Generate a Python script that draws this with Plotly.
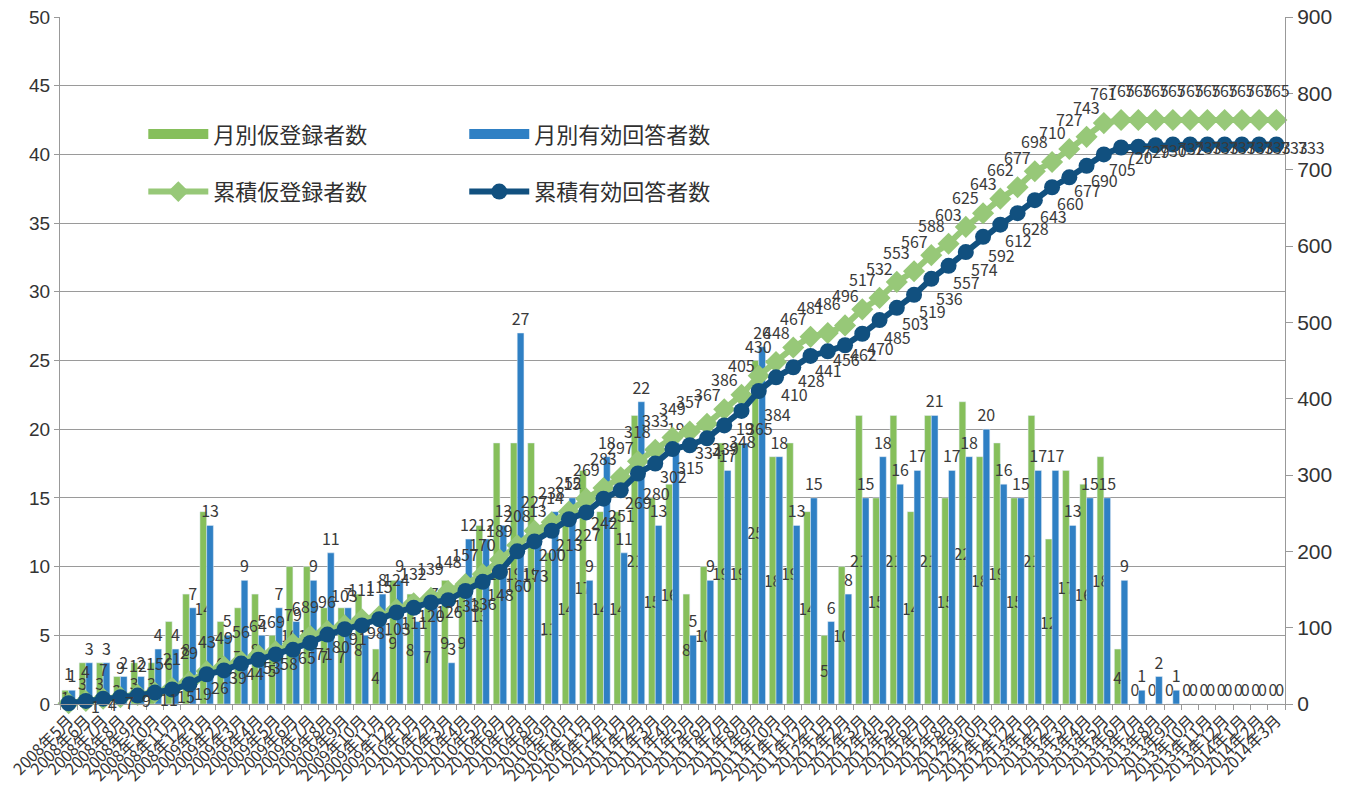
import plotly.graph_objects as go

categories = [
    "2008年5月", "2008年6月", "2008年7月", "2008年8月", "2008年9月", "2008年10月", "2008年11月", "2008年12月",
    "2009年1月", "2009年2月", "2009年3月", "2009年4月", "2009年5月", "2009年6月", "2009年7月", "2009年8月",
    "2009年9月", "2009年10月", "2009年11月", "2009年12月",
    "2010年1月", "2010年2月", "2010年3月", "2010年4月", "2010年5月", "2010年6月", "2010年7月", "2010年8月",
    "2010年9月", "2010年10月", "2010年11月", "2010年12月",
    "2011年1月", "2011年2月", "2011年3月", "2011年4月", "2011年5月", "2011年6月", "2011年7月", "2011年8月",
    "2011年9月", "2011年10月", "2011年11月", "2011年12月",
    "2012年1月", "2012年2月", "2012年3月", "2012年4月", "2012年5月", "2012年6月", "2012年7月", "2012年8月",
    "2012年9月", "2012年10月", "2012年11月", "2012年12月",
    "2013年1月", "2013年2月", "2013年3月", "2013年4月", "2013年5月", "2013年6月", "2013年7月", "2013年8月",
    "2013年9月", "2013年10月", "2013年11月", "2013年12月",
    "2014年1月", "2014年2月", "2014年3月",
]

monthly_registered = [
    1, 3, 3, 2, 3, 3, 6, 8, 14, 6,
    7, 8, 5, 10, 10, 7, 7, 8, 4, 9,
    8, 7, 9, 9, 13, 19, 19, 19, 11, 14,
    17, 14, 14, 21, 15, 16, 8, 10, 19, 19,
    25, 18, 19, 14, 5, 10, 21, 15, 21, 14,
    21, 15, 22, 18, 19, 15, 21, 12, 17, 16,
    18, 4, 0, 0, 0, 0, 0, 0, 0, 0, 0,
]

monthly_valid = [
    1, 3, 3, 2, 2, 4, 4, 7, 13, 5,
    9, 5, 7, 6, 9, 11, 7, 5, 8, 9,
    6, 7, 3, 12, 12, 13, 27, 13, 14, 15,
    9, 18, 11, 22, 13, 19, 5, 9, 17, 19,
    26, 18, 13, 15, 6, 8, 15, 18, 16, 17,
    21, 17, 18, 20, 16, 15, 17, 17, 13, 15,
    15, 9, 1, 2, 1, 0, 0, 0, 0, 0, 0,
]

cumulative_registered = [
    1, 4, 7, 9, 12, 15, 21, 29, 43, 49,
    56, 64, 69, 79, 89, 96, 103, 111, 115, 124,
    132, 139, 148, 157, 170, 189, 208, 227, 238, 252,
    269, 283, 297, 318, 333, 349, 357, 367, 386, 405,
    430, 448, 467, 481, 486, 496, 517, 532, 553, 567,
    588, 603, 625, 643, 662, 677, 698, 710, 727, 743,
    761, 765, 765, 765, 765, 765, 765, 765, 765, 765, 765,
]

cumulative_valid = [
    1, 4, 7, 9, 11, 15, 19, 26, 39, 44,
    53, 58, 65, 71, 80, 91, 98, 103, 111, 120,
    126, 133, 136, 148, 160, 173, 200, 213, 227, 242,
    251, 269, 280, 302, 315, 334, 339, 348, 365, 384,
    410, 428, 441, 456, 462, 470, 485, 503, 519, 536,
    557, 574, 592, 612, 628, 643, 660, 677, 690, 705,
    720, 729, 730, 732, 733, 733, 733, 733, 733, 733, 733,
]

names = ["月別仮登録者数", "月別有効回答者数", "累積仮登録者数", "累積有効回答者数"]

GREEN_BAR = "#86bf5b"
BLUE_BAR = "#2f80c4"
GREEN_LINE = "#97c878"
NAVY_LINE = "#11507f"
LABEL = "#3a3a3a"
FONT = "Noto Sans CJK JP"
NUM_FONT = "Liberation Sans"

fig = go.Figure()

fig.add_trace(go.Bar(
    x=categories, y=monthly_registered, name=names[0], marker_color=GREEN_BAR,
    text=[str(v) for v in monthly_registered],
    textposition=["inside" if v > 0 else "outside" for v in monthly_registered],
    insidetextanchor="middle", textangle=0, constraintext="none",
    textfont=dict(size=16, color=LABEL, family=FONT),
    cliponaxis=False, showlegend=False, yaxis="y",
))
fig.add_trace(go.Bar(
    x=categories, y=monthly_valid, name=names[1], marker_color=BLUE_BAR,
    text=[str(v) for v in monthly_valid], textposition="outside",
    textangle=0, constraintext="none",
    textfont=dict(size=16, color=LABEL, family=FONT),
    cliponaxis=False, showlegend=False, yaxis="y",
))
fig.add_trace(go.Scatter(
    x=categories, y=cumulative_registered, name=names[2], mode="lines+markers",
    line=dict(color=GREEN_LINE, width=6),
    marker=dict(symbol="diamond", size=17, color=GREEN_LINE),
    yaxis="y2", showlegend=False, cliponaxis=False,
))
fig.add_trace(go.Scatter(
    x=categories, y=cumulative_valid, name=names[3], mode="lines+markers",
    line=dict(color=NAVY_LINE, width=6),
    marker=dict(symbol="circle", size=16, color=NAVY_LINE),
    yaxis="y2", showlegend=False, cliponaxis=False,
))

# legend proxies (no data)
fig.add_trace(go.Scatter(x=[None], y=[None], name=names[0], mode="lines",
                         line=dict(color=GREEN_BAR, width=14), legend="legend", legendgroup="a"))
fig.add_trace(go.Scatter(x=[None], y=[None], name=names[2], mode="lines+markers",
                         line=dict(color=GREEN_LINE, width=6),
                         marker=dict(symbol="diamond", size=17, color=GREEN_LINE),
                         legend="legend", legendgroup="b"))
fig.add_trace(go.Scatter(x=[None], y=[None], name=names[1], mode="lines",
                         line=dict(color=BLUE_BAR, width=14), legend="legend2", legendgroup="c"))
fig.add_trace(go.Scatter(x=[None], y=[None], name=names[3], mode="lines+markers",
                         line=dict(color=NAVY_LINE, width=6),
                         marker=dict(symbol="circle", size=16, color=NAVY_LINE),
                         legend="legend2", legendgroup="d"))

annotations = []
for c, v in zip(categories, cumulative_registered):
    annotations.append(dict(x=c, y=v, xref="x", yref="y2", text=str(v), showarrow=False,
                            yshift=30, font=dict(size=16, color=LABEL, family=FONT)))
for c, v in zip(categories, cumulative_valid):
    annotations.append(dict(x=c, y=v, xref="x", yref="y2", text=str(v), showarrow=False,
                            xanchor="left", xshift=20, yshift=-3,
                            font=dict(size=16, color=LABEL, family=FONT)))

legend_common = dict(
    font=dict(size=22, color="#303030", family=FONT),
    bgcolor="rgba(0,0,0,0)", itemwidth=60, tracegroupgap=26,
    xanchor="left", yanchor="top", orientation="v",
)

fig.update_layout(
    width=1353, height=809,
    margin=dict(l=52, r=76, t=9, b=113, autoexpand=False),
    paper_bgcolor="white", plot_bgcolor="white",
    font=dict(family=FONT, color="#333333"),
    barmode="group", bargap=0.22, bargroupgap=0.0,
    annotations=annotations,
    legend=dict(x=0.068, y=0.86, **legend_common),
    legend2=dict(x=0.33, y=0.86, **legend_common),
    xaxis=dict(
        type="category", tickmode="linear", dtick=1, tickangle=-45,
        tickfont=dict(size=16, color="#333333", family=FONT),
        showline=True, linecolor="#999999", linewidth=1,
        ticks="outside", ticklen=5, tickcolor="#999999", tickson="boundaries",
        showgrid=False, range=[-0.5, len(categories) - 0.5],
        ticklabeloverflow="allow",
    ),
    yaxis=dict(
        range=[0, 50], dtick=5, tickfont=dict(size=19, color="#333333", family=NUM_FONT),
        showgrid=True, gridcolor="#9a9a9a", gridwidth=1,
        showline=True, linecolor="#999999", linewidth=1,
        ticks="outside", ticklen=5, tickcolor="#999999", zeroline=False,
        ticklabeloverflow="allow",
    ),
    yaxis2=dict(
        range=[0, 900], dtick=100, overlaying="y", side="right",
        tickfont=dict(size=21, color="#333333", family=NUM_FONT),
        showgrid=False, showline=True, linecolor="#999999", linewidth=1,
        ticks="outside", ticklen=7, tickcolor="#999999", zeroline=False,
        ticklabeloverflow="allow",
    ),
)

fig.write_html("out.html")
